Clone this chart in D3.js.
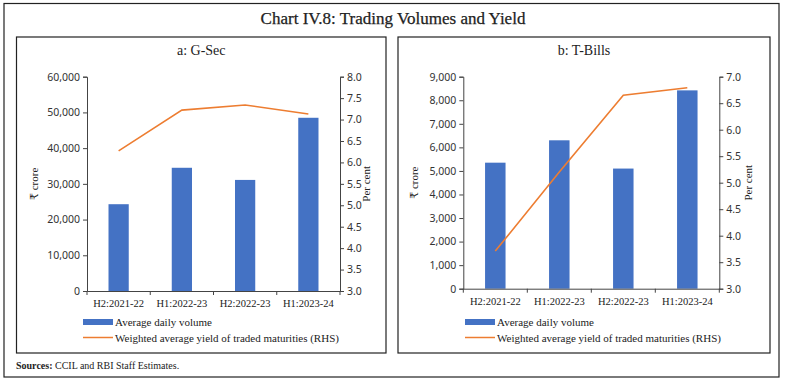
<!DOCTYPE html>
<html>
<head>
<meta charset="utf-8">
<script src="https://cdn.jsdelivr.net/npm/d3@7"></script>
<style>
  body { margin: 0; background: #fff; }
  svg text { fill: #222; }
</style>
</head>
<body>
<svg id="chart" width="785" height="381"></svg>
<script>
// data
const periods = ["H2:2021-22", "H1:2022-23", "H2:2022-23", "H1:2023-24"];
const gsecVolume = [24300, 34500, 31100, 48500];
const gsecYield = [6.27, 7.22, 7.34, 7.13];
const tbillVolume = [5350, 6300, 5100, 8420];
const tbillYield = [3.71, 5.2, 6.65, 6.79];
const gsecVolTicks = [0, 10000, 20000, 30000, 40000, 50000, 60000];
const gsecYieldTicks = [3.0, 3.5, 4.0, 4.5, 5.0, 5.5, 6.0, 6.5, 7.0, 7.5, 8.0];
const tbillVolTicks = [0, 1000, 2000, 3000, 4000, 5000, 6000, 7000, 8000, 9000];
const tbillYieldTicks = [3.0, 3.5, 4.0, 4.5, 5.0, 5.5, 6.0, 6.5, 7.0];
const legendLabels = ["Average daily volume", "Weighted average yield of traded maturities (RHS)"];

const serif = "'Liberation Serif', 'DejaVu Serif', serif";
const sans = "'Noto Sans', 'Liberation Sans', sans-serif";
const barColor = "#4472C4";
const lineColor = "#ED7D31";

const svg = d3.select("#chart");

// outer frame
svg.append("rect")
    .attr("x", 4).attr("y", 3.5).attr("width", 775).attr("height", 373.5)
    .attr("fill", "none").attr("stroke", "#222").attr("stroke-width", 1.2);

svg.append("text")
    .attr("x", 393).attr("y", 24)
    .attr("text-anchor", "middle")
    .style("font-family", serif).style("font-size", "17px")
    .style("stroke", "#222").style("stroke-width", 0.25)
    .text("Chart IV.8: Trading Volumes and Yield");

const sources = svg.append("text")
    .attr("x", 16).attr("y", 369)
    .style("font-family", serif).style("font-size", "10px");
sources.append("tspan").style("font-weight", "bold").text("Sources:");
sources.append("tspan").text(" CCIL and RBI Staff Estimates.");

function drawPanel(p) {
    const g = svg.append("g");

    g.append("rect")
        .attr("x", p.box[0]).attr("y", 37).attr("width", p.box[1] - p.box[0]).attr("height", 316)
        .attr("fill", "none").attr("stroke", "#222").attr("stroke-width", 1.2);

    g.append("text")
        .attr("x", (p.box[0] + p.box[1]) / 2).attr("y", 55)
        .attr("text-anchor", "middle")
        .style("font-family", serif).style("font-size", "14px")
        .text(p.title);

    const x = d3.scaleBand().domain(periods).range([p.left, p.right]);
    const yL = d3.scaleLinear().domain([0, d3.max(p.volTicks)]).range([p.bottom, p.top]);
    const yR = d3.scaleLinear().domain([d3.min(p.yieldTicks), d3.max(p.yieldTicks)]).range([p.bottom, p.top]);

    // bars
    const bw = x.bandwidth() * 0.32;
    g.selectAll(".bar").data(p.volume).enter().append("rect")
        .attr("class", "bar")
        .attr("x", (d, i) => x(periods[i]) + x.bandwidth() / 2 - bw / 2)
        .attr("y", d => yL(d))
        .attr("width", bw)
        .attr("height", d => p.bottom - yL(d))
        .attr("fill", barColor);

    // left axis
    const axL = g.append("g")
        .attr("transform", `translate(${p.left},0)`)
        .call(d3.axisLeft(yL).tickValues(p.volTicks).tickSize(4).tickPadding(3).tickFormat(d3.format(",")));
    // right axis
    const axR = g.append("g")
        .attr("transform", `translate(${p.right},0)`)
        .call(d3.axisRight(yR).tickValues(p.yieldTicks).tickSize(4).tickPadding(3).tickFormat(d3.format(".1f")));
    // category axis, ticks on band edges
    const axB = g.append("g")
        .attr("transform", `translate(0,${p.bottom})`)
        .call(d3.axisBottom(x).tickSize(0).tickPadding(9));
    axB.selectAll(".tick text").style("font-family", serif).style("font-size", "10.5px");
    g.selectAll(".edge").data(d3.range(periods.length + 1)).enter().append("line")
        .attr("x1", i => p.left + i * x.step()).attr("x2", i => p.left + i * x.step())
        .attr("y1", p.bottom).attr("y2", p.bottom + 4)
        .attr("stroke", "#444");

    [axL, axR].forEach(a => a.selectAll(".tick text").style("font-family", sans).style("font-size", "10.5px").style("fill", "#333"));
    [axL, axR, axB].forEach(a => {
        a.select(".domain").attr("stroke", "#444");
        a.selectAll(".tick line").attr("stroke", "#444");
    });

    // yield line
    const line = d3.line()
        .x((d, i) => x(periods[i]) + x.bandwidth() / 2)
        .y(d => yR(d));
    g.append("path").datum(p.yield)
        .attr("d", line)
        .attr("fill", "none").attr("stroke", lineColor).attr("stroke-width", 1.6);

    // axis titles
    const midY = (p.top + p.bottom) / 2;
    g.append("text")
        .attr("transform", `translate(${p.left - p.titleOffL},${midY}) rotate(-90)`)
        .attr("text-anchor", "middle")
        .style("font-family", serif).style("font-size", "11px")
        .text("₹ crore");
    g.append("text")
        .attr("transform", `translate(${p.right + p.titleOffR},${midY}) rotate(-90)`)
        .attr("text-anchor", "middle")
        .style("font-family", serif).style("font-size", "11px")
        .text("Per cent");

    // legend
    const lg = g.append("g");
    lg.append("rect")
        .attr("x", p.legendX).attr("y", 319).attr("width", 30).attr("height", 6)
        .attr("fill", barColor);
    lg.append("text")
        .attr("x", p.legendX + 32).attr("y", 326)
        .style("font-family", serif).style("font-size", "11px")
        .text(legendLabels[0]);
    lg.append("line")
        .attr("x1", p.legendX).attr("x2", p.legendX + 30)
        .attr("y1", 337.5).attr("y2", 337.5)
        .attr("stroke", lineColor).attr("stroke-width", 1.5);
    lg.append("text")
        .attr("x", p.legendX + 32).attr("y", 341.5)
        .style("font-family", serif).style("font-size", "11px")
        .text(legendLabels[1]);
}

drawPanel({
    title: "a: G-Sec", box: [16.5, 386],
    left: 87, right: 340, top: 76.7, bottom: 291,
    volume: gsecVolume, yield: gsecYield,
    volTicks: gsecVolTicks, yieldTicks: gsecYieldTicks,
    titleOffL: 49, titleOffR: 30, legendX: 83
});

drawPanel({
    title: "b: T-Bills", box: [398, 770],
    left: 463.3, right: 719.3, top: 76.7, bottom: 288.7,
    volume: tbillVolume, yield: tbillYield,
    volTicks: tbillVolTicks, yieldTicks: tbillYieldTicks,
    titleOffL: 45, titleOffR: 33, legendX: 465
});
</script>
</body>
</html>
